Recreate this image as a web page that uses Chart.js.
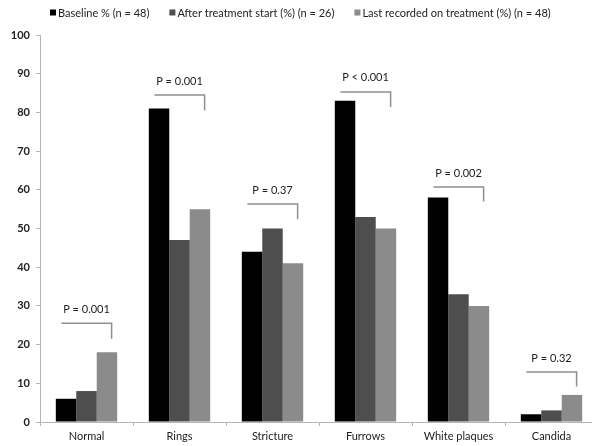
<!DOCTYPE html>
<html>
<head>
<meta charset="utf-8">
<script src="https://cdn.jsdelivr.net/npm/chart.js@4/dist/chart.umd.min.js"></script>
<style>
  html, body { margin: 0; padding: 0; background: #fff; overflow: hidden; }
  #wrap { position: relative; width: 600px; height: 446px; }
</style>
</head>
<body>
<div id="wrap"><canvas id="chart"></canvas></div>
<script>
// Endoscopic findings by time point (% of patients)
const categories = ['Normal', 'Rings', 'Stricture', 'Furrows', 'White plaques', 'Candida'];
const seriesLabels = ['Baseline % (n = 48)', 'After treatment start (%) (n = 26)', 'Last recorded on treatment (%) (n = 48)'];
const baseline = [6, 81, 44, 83, 58, 2];
const afterStart = [8, 47, 50, 53, 33, 3];
const lastRecorded = [18, 55, 41, 50, 30, 7];
const yTicks = [0, 10, 20, 30, 40, 50, 60, 70, 80, 90, 100];

// Significance brackets: label, height of the bar, end of the drop
const pLabels = ['P = 0.001', 'P = 0.001', 'P = 0.37', 'P < 0.001', 'P = 0.002', 'P = 0.32'];
const bracketTop = [25.5, 84.5, 56.3, 85.3, 60.7, 12.9];
const bracketEnd = [21.5, 80.5, 52.4, 81.4, 57, 9.2];

const colors = ['#000000', '#4e4e4e', '#8b8b8b'];
const FONT = "'Liberation Sans Narrow', 'Lato', sans-serif";

const bracketPlugin = {
  id: 'pBrackets',
  afterDatasetsDraw(chart) {
    const { ctx, scales: { x, y } } = chart;
    const catW = x.getPixelForValue(1) - x.getPixelForValue(0);
    ctx.save();
    ctx.strokeStyle = '#8f8f8f';
    ctx.lineWidth = 1.5;
    ctx.fillStyle = '#222';
    ctx.font = '11px ' + FONT;
    ctx.textAlign = 'center';
    ctx.textBaseline = 'middle';
    pLabels.forEach((lab, i) => {
      const cx = x.getPixelForValue(i);
      const x0 = cx - catW * 0.27;
      const x1 = cx + catW * 0.27;
      const yTop = y.getPixelForValue(bracketTop[i]);
      const yEnd = y.getPixelForValue(bracketEnd[i]);
      ctx.beginPath();
      ctx.moveTo(x0, yTop);
      ctx.lineTo(x1, yTop);
      ctx.lineTo(x1, yEnd);
      ctx.stroke();
      ctx.fillText(lab, (x0 + x1) / 2, yTop - 14);
    });
    ctx.restore();
  }
};

const legendPlugin = {
  id: 'topLegend',
  afterDraw(chart) {
    const { ctx } = chart;
    ctx.save();
    ctx.font = '11px ' + FONT;
    ctx.textBaseline = 'middle';
    ctx.textAlign = 'left';
    let xPos = 50;
    const yMid = 13;
    chart.data.datasets.forEach(ds => {
      ctx.fillStyle = ds.backgroundColor;
      ctx.fillRect(xPos, yMid - 3.5, 6, 6);
      ctx.fillStyle = '#222';
      ctx.fillText(ds.label, xPos + 8, yMid);
      xPos += 8 + ctx.measureText(ds.label).width + 20;
    });
    ctx.restore();
  }
};

new Chart(document.getElementById('chart'), {
  type: 'bar',
  data: {
    labels: categories,
    datasets: [
      { label: seriesLabels[0], data: baseline, backgroundColor: colors[0] },
      { label: seriesLabels[1], data: afterStart, backgroundColor: colors[1] },
      { label: seriesLabels[2], data: lastRecorded, backgroundColor: colors[2] }
    ]
  },
  options: {
    responsive: true,
    maintainAspectRatio: false,
    animation: false,
    layout: { padding: { top: 35, right: 2, bottom: 0, left: 0 } },
    datasets: { bar: { categoryPercentage: 0.66, barPercentage: 1.0 } },
    plugins: {
      legend: { display: false },
      tooltip: { enabled: false }
    },
    scales: {
      x: {
        grid: { display: true, offset: true, drawOnChartArea: false, tickLength: 4, color: '#b5b5b5' },
        border: { color: '#b5b5b5', width: 1 },
        ticks: { color: '#222', font: { family: FONT, size: 11 }, padding: 4, maxRotation: 0 },
        afterFit(scale) { scale.height = 24; }
      },
      y: {
        min: 0,
        max: 100,
        afterBuildTicks(scale) { scale.ticks = yTicks.map(v => ({ value: v })); },
        grid: { display: true, drawOnChartArea: false, tickLength: 4, color: '#b5b5b5' },
        border: { color: '#b5b5b5', width: 1 },
        ticks: { color: '#222', font: { family: FONT, size: 11, weight: 'bold' }, padding: 6 },
        afterFit(scale) { scale.width = 40; }
      }
    }
  },
  plugins: [bracketPlugin, legendPlugin]
});
</script>
</body>
</html>
